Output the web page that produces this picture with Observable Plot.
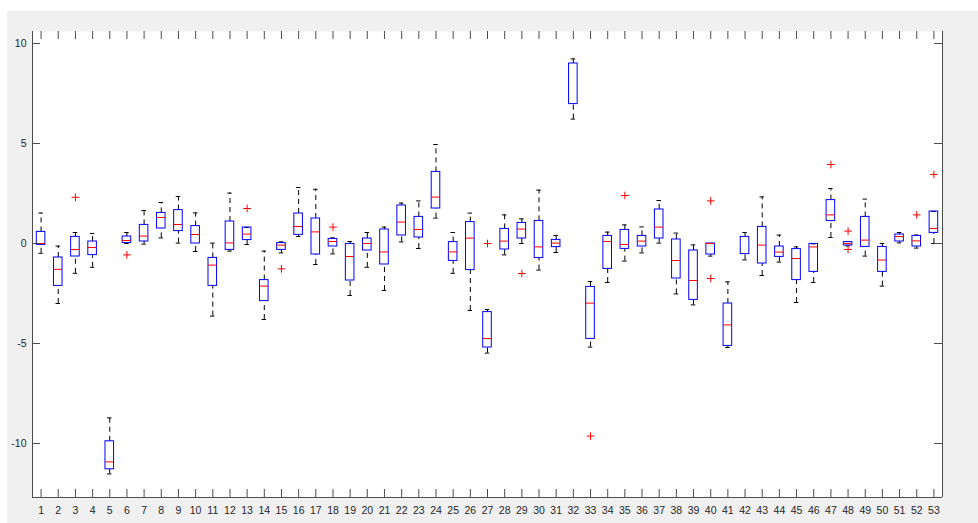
<!DOCTYPE html>
<html>
<head>
<meta charset="utf-8">
<script src="https://cdn.jsdelivr.net/npm/d3@7"></script>
<script src="https://cdn.jsdelivr.net/npm/@observablehq/plot@0.6"></script>
<style>
  html, body { margin: 0; padding: 0; background: #ffffff; }
  #wrap { position: relative; width: 978px; height: 523px; overflow: hidden; }
  #bg { position: absolute; left: 7px; top: 11px; right: 0; bottom: 0; background: #f0f0f0; }
  #chart { position: absolute; left: 0; top: 0; }
</style>
</head>
<body>
<div id="wrap"><div id="bg"></div><div id="chart"></div></div>
<script>
// ---- data (MATLAB-style boxplot, 53 groups) ----
const groups = d3.range(1, 54);
const whiskerHigh = [1.52,-0.13,0.55,0.50,-8.72,0.55,1.65,2.05,2.35,1.53,0.02,2.52,0.80,-0.38,0.08,2.80,2.71,0.28,0.10,0.55,0.82,2.02,2.13,4.95,0.55,1.52,-3.30,1.43,1.23,2.67,0.40,9.23,-1.90,0.57,0.93,0.83,2.15,0.52,-0.07,0.00,-1.92,0.55,2.33,0.42,-0.17,-0.02,2.75,0.10,2.22,0.00,0.55,0.42,1.60];
const q3 = [0.58,-0.70,0.33,0.10,-9.89,0.35,0.93,1.53,1.67,0.87,-0.72,1.10,0.80,-1.83,0.02,1.50,1.25,0.23,-0.02,0.25,0.70,1.90,1.33,3.58,0.07,1.07,-3.43,0.73,1.03,1.13,0.18,9.00,-2.17,0.38,0.68,0.38,1.70,0.20,-0.35,0.00,-3.00,0.33,0.83,-0.15,-0.28,-0.02,2.17,0.07,1.33,-0.17,0.45,0.38,1.60];
const medians = [0.00,-1.29,-0.30,-0.20,-10.92,0.15,0.37,1.30,0.95,0.45,-1.08,0.03,0.47,-2.13,-0.08,0.85,0.58,0.10,-0.65,0.00,-0.42,1.07,0.70,2.32,-0.42,0.27,-4.75,0.12,0.72,-0.17,0.02,null,-2.98,0.10,-0.05,0.12,0.82,-0.85,-1.85,0.00,-4.07,null,-0.08,-0.43,-0.75,-0.17,1.43,0.00,0.17,-0.83,0.35,0.13,0.75];
const q1 = [-0.07,-2.12,-0.65,-0.58,-11.29,0.02,0.10,0.75,0.62,0.00,-2.12,-0.32,0.17,-2.88,-0.32,0.43,-0.55,-0.15,-1.85,-0.35,-1.05,0.40,0.30,1.75,-0.87,-1.33,-5.20,-0.30,0.25,-0.73,-0.18,6.97,-4.77,-1.27,-0.27,-0.15,0.25,-1.75,-2.82,-0.55,-5.12,-0.53,-1.00,-0.67,-1.83,-1.42,1.12,-0.10,-0.17,-1.42,0.10,-0.15,0.53];
const whiskerLow = [-0.49,-3.00,-1.49,-1.19,-11.52,0.00,-0.03,0.28,0.02,-0.40,-3.63,-0.38,-0.05,-3.80,-0.47,0.35,-1.05,-0.52,-2.60,-1.19,-2.35,0.08,-0.25,1.27,-1.49,-3.35,-5.48,-0.57,0.00,-1.33,-0.45,6.22,-5.18,-1.95,-0.88,-0.47,0.02,-2.52,-3.07,-0.63,-5.20,-0.82,-1.60,-0.93,-2.95,-1.95,0.30,-0.12,-0.63,-2.13,0.03,-0.23,0.00];
const outlierGroup = [3, 6, 13, 15, 18, 27, 29, 33, 35, 40, 40, 47, 48, 48, 52, 53];
const outlierValue = [2.31, -0.57, 1.75, -1.27, 0.82, 0.00, -1.50, -9.63, 2.40, 2.13, -1.75, 3.95, 0.62, -0.30, 1.43, 3.45];
const yTicks = [-10, -5, 0, 5, 10];
const xDomain = [0.5, 53.5];
const yDomain = [-12.7, 10.6];

// ---- layout ----
const W = 978, H = 523;
const mTop = 31, mBottom = 26, mLeft = 32, mRight = 36;
const pxPerX = (W - mLeft - mRight) / (xDomain[1] - xDomain[0]);
const pxPerY = (H - mTop - mBottom) / (yDomain[1] - yDomain[0]);
const tickLenX = 8 / pxPerX, tickLenY = 8 / pxPerY;
const boxHalf = 0.25, capHalf = 0.13;

const boxes = groups.map((g, i) => ({
  g, hi: whiskerHigh[i], q3: q3[i], med: medians[i], q1: q1[i], lo: whiskerLow[i]
}));
const outliers = outlierGroup.map((g, i) => ({g, v: outlierValue[i]}));

const axisColor = "#4d4d4d";
const font = "'Liberation Sans', Arial, Helvetica, sans-serif";

const chart = Plot.plot({
  width: W, height: H,
  marginTop: mTop, marginBottom: mBottom, marginLeft: mLeft, marginRight: mRight,
  style: {background: "transparent", fontFamily: font, fontSize: "10.5px", color: "#262626"},
  x: {type: "linear", domain: xDomain, axis: null},
  y: {type: "linear", domain: yDomain, axis: null},
  marks: [
    Plot.frame({fill: "white", stroke: null}),
    // whiskers (dashed)
    Plot.ruleX(boxes.filter(d => d.hi > d.q3), {x: "g", y1: "q3", y2: "hi", stroke: "black", strokeWidth: 1, strokeDasharray: "5,4"}),
    Plot.ruleX(boxes.filter(d => d.lo < d.q1), {x: "g", y1: "lo", y2: "q1", stroke: "black", strokeWidth: 1, strokeDasharray: "5,4"}),
    // whisker caps
    Plot.ruleY(boxes, {y: "hi", x1: d => d.g - capHalf, x2: d => d.g + capHalf, stroke: "black", strokeWidth: 1}),
    Plot.ruleY(boxes, {y: "lo", x1: d => d.g - capHalf, x2: d => d.g + capHalf, stroke: "black", strokeWidth: 1}),
    // boxes
    Plot.rect(boxes, {x1: d => d.g - boxHalf, x2: d => d.g + boxHalf, y1: "q1", y2: "q3", fill: "none", stroke: "#0000ff", strokeWidth: 1}),
    // medians
    Plot.ruleY(boxes.filter(d => d.med != null), {y: "med", x1: d => d.g - boxHalf, x2: d => d.g + boxHalf, stroke: "#ff0000", strokeWidth: 1}),
    // outliers
    Plot.dot(outliers, {x: "g", y: "v", symbol: "plus", r: 2.6, stroke: "#ff0000", strokeWidth: 1}),
    // axes lines (left, right, bottom)
    Plot.ruleX([xDomain[0], xDomain[1]], {x: d => d, stroke: axisColor, strokeWidth: 1}),
    Plot.ruleY([yDomain[0]], {y: d => d, stroke: axisColor, strokeWidth: 1}),
    // inward ticks
    Plot.ruleX(groups, {x: d => d, y1: yDomain[0], y2: yDomain[0] + tickLenY, stroke: axisColor, strokeWidth: 1}),
    Plot.ruleX(groups, {x: d => d, y1: yDomain[1] - tickLenY, y2: yDomain[1], stroke: axisColor, strokeWidth: 1}),
    Plot.ruleY(yTicks, {y: d => d, x1: xDomain[0], x2: xDomain[0] + tickLenX, stroke: axisColor, strokeWidth: 1}),
    Plot.ruleY(yTicks, {y: d => d, x1: xDomain[1] - tickLenX, x2: xDomain[1], stroke: axisColor, strokeWidth: 1}),
    // tick labels
    Plot.axisX({anchor: "bottom", ticks: groups, tickSize: 0, tickPadding: 9, tickFormat: d => String(d), label: null, fontSize: 10.5}),
    Plot.axisY({anchor: "left", ticks: yTicks, tickSize: 0, tickPadding: 6, tickFormat: d => String(d), label: null, fontSize: 10.5})
  ]
});
document.getElementById("chart").appendChild(chart);
</script>
</body>
</html>
